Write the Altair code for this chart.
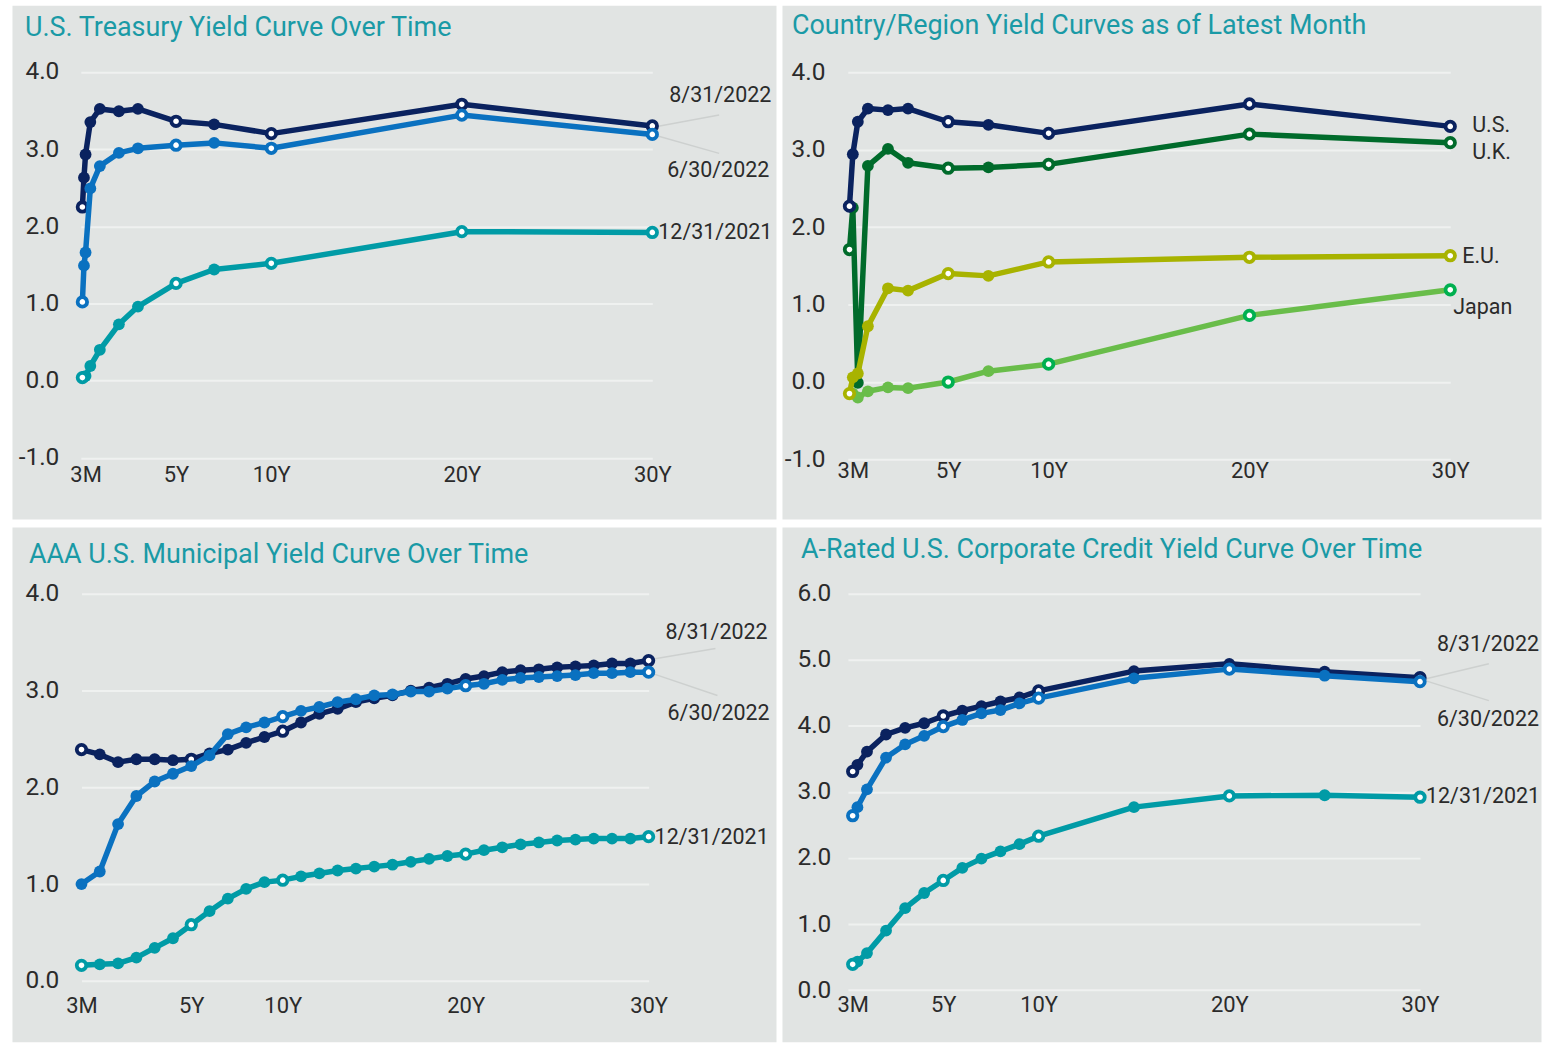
import altair as alt
import pandas as pd

# ---------------- data ----------------
# U.S. Treasury yield curve (tenor in years)
tsy_tenors = [1/12, 2/12, 3/12, 6/12, 1, 2, 3, 5, 7, 10, 20, 30]
tsy_2022_08 = [2.25, 2.63, 2.93, 3.35, 3.52, 3.49, 3.52, 3.36, 3.32, 3.20, 3.58, 3.30]
tsy_2022_06 = [1.02, 1.49, 1.66, 2.49, 2.78, 2.95, 3.01, 3.05, 3.08, 3.01, 3.44, 3.19]
tsy_2021_12 = [0.04, 0.05, 0.06, 0.19, 0.40, 0.73, 0.96, 1.26, 1.44, 1.52, 1.93, 1.92]

# Country / region curves as of latest month
cty_tenors = [1/12, 3/12, 6/12, 1, 2, 3, 5, 7, 10, 20, 30]
cty_us = [2.27, 2.94, 3.36, 3.53, 3.51, 3.53, 3.36, 3.32, 3.21, 3.59, 3.30]
cty_uk = [1.71, 2.25, -0.01, 2.79, 3.01, 2.83, 2.76, 2.77, 2.81, 3.20, 3.09]
cty_eu = [-0.15, 0.06, 0.11, 0.72, 1.21, 1.18, 1.40, 1.37, 1.55, 1.61, 1.63]
jpn_tenors = [3/12, 6/12, 1, 2, 3, 5, 7, 10, 20, 30]
cty_japan = [-0.15, -0.20, -0.12, -0.07, -0.08, 0.00, 0.14, 0.23, 0.86, 1.19]

# AAA municipal curve (evenly spaced tenor points)
muni_tenors = ["3M", "6M", "1Y", "2Y", "3Y", "4Y", "5Y", "6Y", "7Y", "8Y", "9Y", "10Y",
               "11Y", "12Y", "13Y", "14Y", "15Y", "16Y", "17Y", "18Y", "19Y", "20Y",
               "21Y", "22Y", "23Y", "24Y", "25Y", "26Y", "27Y", "28Y", "29Y", "30Y"]
muni_2022_08 = [2.39, 2.34, 2.26, 2.29, 2.29, 2.28, 2.29, 2.35, 2.39, 2.46, 2.52, 2.58,
                2.67, 2.76, 2.81, 2.88, 2.92, 2.95, 3.00, 3.03, 3.07, 3.12, 3.15, 3.19,
                3.21, 3.22, 3.24, 3.25, 3.26, 3.28, 3.28, 3.31]
muni_2022_06 = [1.00, 1.13, 1.62, 1.91, 2.06, 2.14, 2.22, 2.33, 2.55, 2.62, 2.67, 2.73,
                2.79, 2.83, 2.88, 2.91, 2.95, 2.96, 2.99, 2.99, 3.02, 3.05, 3.07, 3.11,
                3.13, 3.14, 3.15, 3.16, 3.18, 3.18, 3.19, 3.19]
muni_2021_12 = [0.16, 0.17, 0.18, 0.24, 0.34, 0.44, 0.58, 0.72, 0.85, 0.95, 1.02, 1.04,
                1.08, 1.11, 1.14, 1.16, 1.18, 1.20, 1.23, 1.26, 1.29, 1.31, 1.35, 1.38,
                1.41, 1.43, 1.45, 1.46, 1.47, 1.47, 1.47, 1.49]

# A-rated corporate credit curve
corp_tenors = [0.25, 0.5, 1, 2, 3, 4, 5, 6, 7, 8, 9, 10, 15, 20, 25, 30]
corp_2022_08 = [3.31, 3.41, 3.61, 3.87, 3.97, 4.04, 4.15, 4.23, 4.30, 4.37, 4.43, 4.53, 4.83, 4.94, 4.82, 4.73]
corp_2022_06 = [2.64, 2.77, 3.04, 3.52, 3.72, 3.85, 3.99, 4.09, 4.19, 4.24, 4.34, 4.42, 4.72, 4.86, 4.76, 4.67]
corp_2021_12 = [0.39, 0.43, 0.56, 0.90, 1.24, 1.47, 1.66, 1.85, 1.99, 2.10, 2.21, 2.33, 2.77, 2.94, 2.95, 2.92]

# ---------------- style ----------------
FONT = "Roboto"
BG = "#e1e4e3"
GRID = "#eff1f0"
TXT = "#2b2b2b"
TITLE_C = "#1a9aa6"
LEADER = "#cdd0cf"
NAVY = "#0a225f"
BLUE = "#0a71c0"
TEAL = "#009ba6"
UKG = "#006b2b"
EUO = "#a8b300"
JPL = "#69bd4a"
JPM = "#00b050"


def label_expr(vals, texts):
    expr = "''"
    for v, t in reversed(list(zip(vals, texts))):
        expr = f"datum.value == {v} ? '{t}' : ({expr})"
    return expr


def panel(cfg):
    xs = alt.Scale(domain=cfg["x_dom"], range=cfg["x_rng"], nice=False, zero=False)
    ys = alt.Scale(domain=cfg["y_dom"], range=cfg["y_rng"], nice=False, zero=False)
    x_axis = alt.Axis(values=cfg["x_ticks"], labelExpr=label_expr(cfg["x_ticks"], cfg["x_text"]),
                      title=None, grid=False, domain=False, ticks=False, tickSize=0,
                      labelPadding=0, labelBaseline="middle", labelAlign="center",
                      labelFlush=False, labelOverlap=False, offset=cfg["x_off"],
                      labelFont=FONT, labelFontSize=22, labelColor=TXT)
    y_axis = alt.Axis(values=cfg["y_ticks"],
                      labelExpr="(datum.value < 0 ? '-' : '') + format(abs(datum.value), '.1f')",
                      title=None, grid=True, gridColor=GRID, gridWidth=2, domain=False,
                      ticks=False, tickSize=0, labelPadding=0, labelFlush=False,
                      labelOverlap=False, offset=cfg["y_off"], labelBaseline="middle",
                      labelFont=FONT, labelFontSize=24.5, labelColor=TXT)
    X = alt.X("x:Q", scale=xs, axis=x_axis)
    Y = alt.Y("y:Q", scale=ys, axis=y_axis)
    ppx = (cfg["x_rng"][1] - cfg["x_rng"][0]) / (cfg["x_dom"][1] - cfg["x_dom"][0])
    ppy = (cfg["y_rng"][0] - cfg["y_rng"][1]) / (cfg["y_dom"][1] - cfg["y_dom"][0])

    layers = []
    # leader lines
    for (lx, ly, dx1, dy1, dx2, dy2) in cfg["leaders"]:
        d = pd.DataFrame({"x": [lx + dx1 / ppx], "y": [ly - dy1 / ppy],
                          "x2": [lx + dx2 / ppx], "y2": [ly - dy2 / ppy]})
        layers.append(alt.Chart(d).mark_rule(color=LEADER, strokeWidth=1.5).encode(
            x=X, y=Y, x2="x2:Q", y2="y2:Q"))
    # series
    for s in cfg["series"]:
        d = pd.DataFrame({"x": s["x"], "y": s["y"]})
        d["open"] = [xx in s["open"] for xx in s["x"]]
        layers.append(alt.Chart(d).mark_line(color=s["color"], strokeWidth=5.5,
                                             strokeJoin="round", strokeCap="round").encode(x=X, y=Y))
        layers.append(alt.Chart(d).transform_filter("!datum.open").mark_circle(
            color=s["color"], size=140, opacity=1).encode(x=X, y=Y))
        layers.append(alt.Chart(d).transform_filter("datum.open").mark_point(
            shape="circle", filled=True, fill="white", stroke=s.get("mstroke", s["color"]),
            strokeWidth=3.8, size=90, opacity=1).encode(x=X, y=Y))
    # end labels
    for (txt, lx, ly, dx, dy) in cfg["labels"]:
        d = pd.DataFrame({"x": [lx], "y": [ly], "t": [txt]})
        layers.append(alt.Chart(d).mark_text(align="left", baseline="middle", dx=dx, dy=dy,
                                             font=FONT, fontSize=21.5, color=TXT).encode(
            x=X, y=Y, text="t:N"))
    return alt.layer(*layers).properties(
        width=cfg["w"], height=cfg["h"],
        title=alt.TitleParams(cfg["title"], anchor="start", font=FONT, fontSize=27,
                              fontWeight="normal", color=TITLE_C, offset=-(cfg["t_base"] + 24),
                              dx=cfg["t_dx"], baseline="alphabetic"))


tick_vals = [0.25, 5, 10, 20, 30]
tick_text = ["3M", "5Y", "10Y", "20Y", "30Y"]
muni_idx = list(range(len(muni_tenors)))
muni_tick_idx = [muni_tenors.index(t) for t in tick_text]

p1 = panel(dict(
    title="U.S. Treasury Yield Curve Over Time", t_dx=13, t_base=33.7,
    w=766, h=515, x_dom=[0, 30], x_rng=[69, 642], y_dom=[-1, 4], y_rng=[453.7, 66.7],
    x_ticks=tick_vals, x_text=tick_text, y_ticks=[-1, 0, 1, 2, 3, 4], x_off=-45, y_off=-47,
    series=[
        dict(x=tsy_tenors, y=tsy_2022_08, color=NAVY, open=[1/12, 5, 10, 20, 30]),
        dict(x=tsy_tenors, y=tsy_2022_06, color=BLUE, open=[1/12, 5, 10, 20, 30]),
        dict(x=tsy_tenors, y=tsy_2021_12, color=TEAL, open=[1/12, 5, 10, 20, 30]),
    ],
    labels=[("8/31/2022", 30, tsy_2022_08[-1], 17, -30),
            ("6/30/2022", 30, tsy_2022_06[-1], 15, 36.6),
            ("12/31/2021", 30, tsy_2021_12[-1], 6, 1)],
    leaders=[(30, tsy_2022_08[-1], 2, 1, 67, -11),
             (30, tsy_2022_06[-1], 2, 0.6, 67, 19)],
))

p2 = panel(dict(
    title="Country/Region Yield Curves as of Latest Month", t_dx=10, t_base=32,
    w=761, h=515, x_dom=[0, 30], x_rng=[66, 670], y_dom=[-1, 4], y_rng=[455.3, 67],
    x_ticks=tick_vals, x_text=tick_text, y_ticks=[-1, 0, 1, 2, 3, 4], x_off=-49, y_off=-43,
    series=[
        dict(x=jpn_tenors, y=cty_japan, color=JPL, mstroke=JPM, open=[5, 10, 20, 30]),
        dict(x=cty_tenors, y=cty_uk, color=UKG, open=[1/12, 5, 10, 20, 30]),
        dict(x=cty_tenors, y=cty_eu, color=EUO, open=[1/12, 5, 10, 20, 30]),
        dict(x=cty_tenors, y=cty_us, color=NAVY, open=[1/12, 5, 10, 20, 30]),
    ],
    labels=[("U.S.", 30, cty_us[-1], 22, 0),
            ("U.K.", 30, cty_uk[-1], 22, 10.7),
            ("E.U.", 30, cty_eu[-1], 12, 1.4),
            ("Japan", 30, cty_japan[-1], 3, 18)],
    leaders=[],
))

p3 = panel(dict(
    title="AAA U.S. Municipal Yield Curve Over Time", t_dx=17, t_base=39.5,
    w=766, h=516, x_dom=[0, 31], x_rng=[69.7, 638.3], y_dom=[0, 4], y_rng=[455, 67],
    x_ticks=muni_tick_idx, x_text=tick_text, y_ticks=[0, 1, 2, 3, 4], x_off=-36, y_off=-47,
    series=[
        dict(x=muni_idx, y=muni_2022_08, color=NAVY, open=[0, 6, 11, 31]),
        dict(x=muni_idx, y=muni_2022_06, color=BLUE, open=[11, 21, 31]),
        dict(x=muni_idx, y=muni_2021_12, color=TEAL, open=[0, 6, 11, 21, 31]),
    ],
    labels=[("8/31/2022", 31, muni_2022_08[-1], 17, -28),
            ("6/30/2022", 31, muni_2022_06[-1], 19, 42),
            ("12/31/2021", 31, muni_2021_12[-1], 6, 1)],
    leaders=[(31, muni_2022_08[-1], 2, -1, 67, -12),
             (31, muni_2022_06[-1], 2, 0.7, 69, 23.4)],
))

p4 = panel(dict(
    title="A-Rated U.S. Corporate Credit Yield Curve Over Time", t_dx=19, t_base=34.3,
    w=761, h=516, x_dom=[0, 30], x_rng=[66.1, 639.7], y_dom=[0, 6], y_rng=[464.3, 67],
    x_ticks=tick_vals, x_text=tick_text, y_ticks=[0, 1, 2, 3, 4, 5, 6], x_off=-37, y_off=-49,
    series=[
        dict(x=corp_tenors, y=corp_2022_08, color=NAVY, open=[0.25, 5, 10, 30]),
        dict(x=corp_tenors, y=corp_2022_06, color=BLUE, open=[0.25, 5, 10, 20, 30]),
        dict(x=corp_tenors, y=corp_2021_12, color=TEAL, open=[0.25, 5, 10, 20, 30]),
    ],
    labels=[("8/31/2022", 30, corp_2022_08[-1], 17, -33),
            ("6/30/2022", 30, corp_2022_06[-1], 17, 38),
            ("12/31/2021", 30, corp_2021_12[-1], 6, 0)],
    leaders=[(30, corp_2022_08[-1], 2, 2, 69, -14),
             (30, corp_2022_06[-1], 2, -2, 69, 19)],
))

chart = alt.vconcat(
    alt.hconcat(p1, p2, spacing=4),
    alt.hconcat(p3, p4, spacing=4),
    spacing=6,
).configure(
    background="white",
    padding={"left": 11, "top": 3, "right": 0, "bottom": 0},
).configure_view(fill=BG, stroke="transparent")

chart.save("out.html", embed_options={"renderer": "svg", "actions": False})
